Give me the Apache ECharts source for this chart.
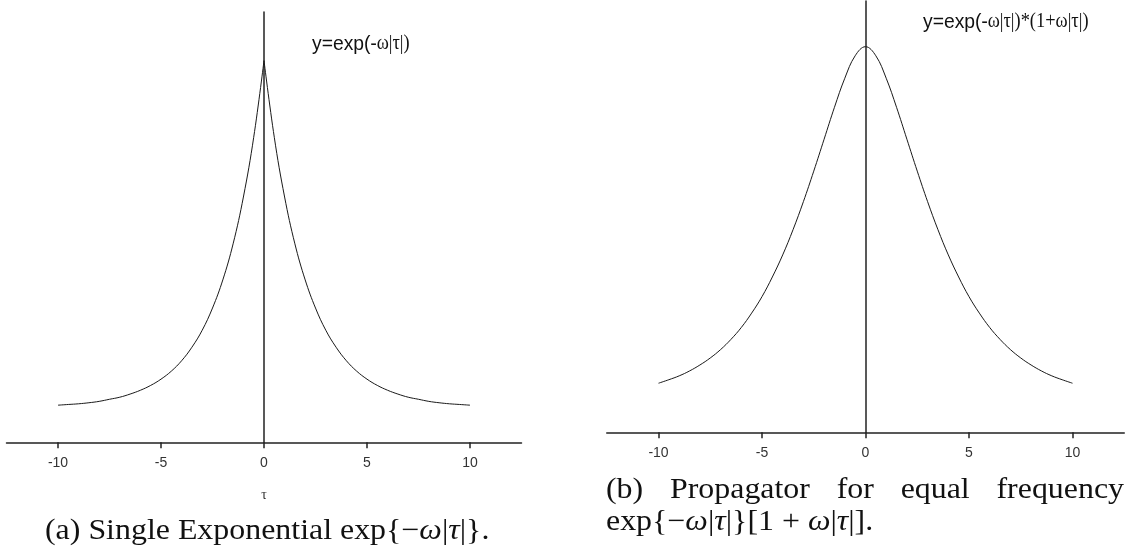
<!DOCTYPE html>
<html><head><meta charset="utf-8">
<script src="https://cdn.jsdelivr.net/npm/echarts@6/dist/echarts.min.js"></script>
<style>html,body{margin:0;padding:0;background:#fff}#c{width:1138px;height:552px}</style>
</head><body><div id="c"></div>
<script>
// ---- data ----
const tau = [-10,-9.5,-9,-8.5,-8,-7.5,-7,-6.5,-6,-5.5,-5,-4.5,-4,-3.5,-3,-2.5,-2,-1.5,-1,-0.5,0,
             0.5,1,1.5,2,2.5,3,3.5,4,4.5,5,5.5,6,6.5,7,7.5,8,8.5,9,9.5,10];
const singleExp = [0.007,0.009,0.011,0.014,0.018,0.024,0.030,0.039,0.050,0.064,0.082,0.105,0.135,0.174,0.223,0.287,0.368,0.472,0.607,0.779,1.0,
                   0.779,0.607,0.472,0.368,0.287,0.223,0.174,0.135,0.105,0.082,0.064,0.050,0.039,0.030,0.024,0.018,0.014,0.011,0.009,0.007];
const propagator = [0.040,0.050,0.061,0.075,0.092,0.112,0.136,0.165,0.199,0.240,0.287,0.343,0.406,0.478,0.558,0.645,0.736,0.827,0.910,0.974,1.0,
                    0.974,0.910,0.827,0.736,0.645,0.558,0.478,0.406,0.343,0.287,0.240,0.199,0.165,0.136,0.112,0.092,0.075,0.061,0.050,0.040];
const xTicks = [-10,-5,0,5,10];
const captionA = '(a) Single Exponential exp{\u2212{i|ω}|{i|τ}|}.';
const captionBWords = ['(b)','Propagator','for','equal','frequency'];
const captionB2 = 'exp{\u2212{i|ω}|{i|τ}|}[1 + {i|ω}|{i|τ}|].';
const labelA = '{a|y=exp(}{b|-ω|τ|)}';
const labelB = '{a|y=exp(}{b|-ω|τ|)*(1+ω|τ|)}';

// ---- chart ----
const chart = echarts.init(document.getElementById('c'), null, {renderer:'canvas'});
const ink = '#222';
const pairs = (ys, from, to) => tau.slice(from, to).map((t, k) => [t, ys[from + k]]);
const mid = tau.indexOf(0);

function xAxisCfg(gi, name) {
  return {
    type:'value', gridIndex:gi, min:-12.5, max:12.5,
    axisLine:{onZero:false, lineStyle:{color:ink, width:1.5}},
    axisTick:{customValues:xTicks, length:6, lineStyle:{color:ink, width:1.5}},
    axisLabel:{customValues:xTicks, margin:14, color:'#333', fontSize:14, fontFamily:'Liberation Sans, Arial, sans-serif'},
    splitLine:{show:false},
    name:name, nameLocation:'middle', nameGap:46,
    nameTextStyle:{color:'#333', fontSize:14, fontFamily:'Liberation Serif, serif'}
  };
}
function yAxisCfg(gi, max) {
  return {
    type:'value', gridIndex:gi, min:-0.1, max:max,
    axisLine:{show:true, onZero:true, lineStyle:{color:ink, width:1.5}},
    axisTick:{show:false}, axisLabel:{show:false}, splitLine:{show:false}
  };
}
const lineStyle = {color:'#1a1a1a', width:1};

// captions: Times-like font stretched to the wider TeX look
const serif = '"Liberation Serif", "Times New Roman", serif';
const capSize = 29, capStretch = 1.1;
const ctx = document.createElement('canvas').getContext('2d');
ctx.font = capSize + 'px ' + serif;
const bStart = 606, bEnd = 1124;
const widths = captionBWords.map(w => ctx.measureText(w).width * capStretch);
const gap = (bEnd - bStart - widths.reduce((a, b) => a + b, 0)) / (captionBWords.length - 1);
let cx = bStart;
const bWordEls = captionBWords.map((w, k) => {
  const el = {type:'text', x:cx, y:490, scaleX:capStretch,
    style:{text:w, fontFamily:serif, fontSize:capSize, fill:'#111', verticalAlign:'middle', align:'left'}};
  cx += widths[k] + gap;
  return el;
});
const richCap = {i:{fontFamily:serif, fontSize:capSize, fontStyle:'italic', fill:'#111'}};
const richLabel = {
  a:{fontFamily:'"Liberation Sans", Arial, sans-serif', fontSize:21, fill:'#111'},
  b:{fontFamily:serif, fontSize:20, fill:'#111'}
};

chart.setOption({
  animation:false,
  backgroundColor:'#fff',
  grid:[
    {left:6.5, top:12.1, width:515, height:430.2},
    {left:606.75, top:1.1, width:517.5, height:431.2}
  ],
  xAxis:[xAxisCfg(0, 'τ'), xAxisCfg(1, '')],
  yAxis:[yAxisCfg(0, 1.14), yAxisCfg(1, 1.13)],
  series:[
    {type:'line', xAxisIndex:0, yAxisIndex:0, data:pairs(singleExp, 0, mid + 1), smooth:0.4, symbol:'none', lineStyle:lineStyle},
    {type:'line', xAxisIndex:0, yAxisIndex:0, data:pairs(singleExp, mid, tau.length), smooth:0.4, symbol:'none', lineStyle:lineStyle},
    {type:'line', xAxisIndex:1, yAxisIndex:1, data:pairs(propagator, 0, tau.length), smooth:0.4, symbol:'none', lineStyle:lineStyle}
  ],
  graphic:[
    {type:'text', x:312, y:44, scaleX:0.92, style:{text:labelA, rich:richLabel, verticalAlign:'middle', align:'left'}},
    {type:'text', x:923, y:22, scaleX:0.92, style:{text:labelB, rich:richLabel, verticalAlign:'middle', align:'left'}},
    {type:'text', x:45, y:531, scaleX:capStretch, style:{text:captionA, rich:richCap, fontFamily:serif, fontSize:capSize, fill:'#111', verticalAlign:'middle', align:'left'}},
    ...bWordEls,
    {type:'text', x:606, y:522, scaleX:capStretch, style:{text:captionB2, rich:richCap, fontFamily:serif, fontSize:capSize, fill:'#111', verticalAlign:'middle', align:'left'}}
  ]
});
</script>
</body></html>
